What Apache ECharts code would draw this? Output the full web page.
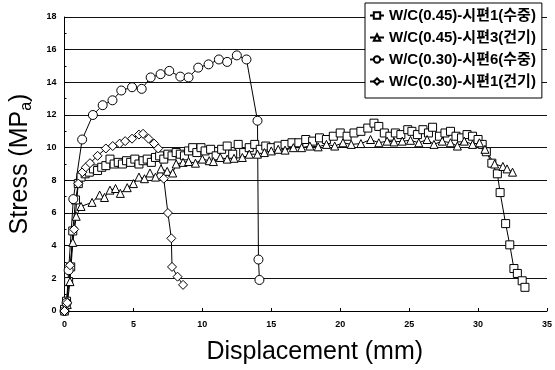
<!DOCTYPE html>
<html><head><meta charset="utf-8">
<script src="https://cdn.jsdelivr.net/npm/echarts@6/dist/echarts.min.js"></script>
<style>html,body{margin:0;padding:0;background:#fff}#c{width:555px;height:370px}</style>
</head><body><div id="c"></div>
<script>
const seriesNames = ['W/C(0.45)-시편1(수중)','W/C(0.45)-시편3(건기)','W/C(0.30)-시편6(수중)','W/C(0.30)-시편1(건기)'];
const xTicks = {min:0,max:35,interval:5};
const yTicks = {min:0,max:18,interval:2};
const sq = [[0,0.1],[0.15,0.6],[0.3,1.8],[0.45,2.7],[0.6,4.9],[0.8,6.8],[1.0,7.8],[1.2,8.2],[1.5,8.4],[1.8,8.5],[2.1,8.7],[2.4,8.6],[2.7,8.8],[3.0,8.9],[3.3,9.3],[3.6,9.0],[3.9,9.1],[4.2,9.0],[4.5,9.2],[4.8,9.1],[5.1,9.3],[5.4,9.0],[5.7,9.2],[6.0,9.3],[6.3,9.1],[6.6,9.4],[6.9,9.5],[7.2,9.3],[7.5,9.6],[7.8,9.5],[8.1,9.7],[8.4,9.6],[8.7,9.5],[9.0,9.8],[9.3,10.0],[9.6,9.7],[9.9,10.0],[10.2,9.8],[10.6,9.9],[11.0,9.5],[11.4,9.9],[11.8,10.1],[12.2,9.6],[12.6,10.2],[13.0,9.7],[13.4,10.0],[13.8,10.2],[14.2,9.9],[14.6,10.1],[15.0,10.0],[15.5,10.1],[16.0,10.2],[16.5,10.3],[17.0,10.3],[17.5,10.5],[18.0,10.4],[18.5,10.6],[19.0,10.5],[19.5,10.7],[20.0,10.9],[20.5,10.7],[21.0,10.9],[21.5,11.0],[22.0,11.2],[22.45,11.5],[22.8,11.3],[23.2,10.9],[23.6,10.7],[24.0,10.9],[24.4,10.8],[24.9,11.1],[25.2,11.0],[25.6,10.8],[26.0,11.1],[26.4,10.9],[26.7,11.25],[27.2,10.7],[27.6,10.9],[28.0,11.0],[28.4,10.7],[28.8,10.6],[29.2,10.8],[29.6,10.7],[30.0,10.5],[30.3,10.2],[30.6,9.75],[31.0,9.05],[31.4,8.4],[31.6,7.25],[32.0,5.35],[32.3,4.05],[32.6,2.6],[32.85,2.3],[33.2,1.85],[33.4,1.45]];
const tri = [[0,0],[0.2,0.4],[0.4,1.8],[0.6,4.2],[0.85,5.8],[1.2,6.4],[2.0,6.65],[2.55,7.1],[2.9,6.95],[3.3,7.4],[3.7,7.5],[4.05,7.2],[4.55,7.55],[5.0,7.8],[5.4,8.2],[5.8,8.1],[6.2,8.45],[6.6,8.2],[7.0,8.7],[7.45,8.55],[7.85,8.45],[8.1,9.0],[8.6,9.1],[9.0,9.15],[9.5,9.05],[10.0,9.3],[10.5,9.2],[10.8,9.15],[11.3,9.4],[11.8,9.3],[12.3,9.35],[12.9,9.4],[13.4,9.6],[14.0,9.6],[14.5,9.7],[15.0,9.8],[15.5,9.9],[16.0,9.85],[16.6,10.0],[17.2,10.0],[17.8,10.1],[18.4,10.05],[19.0,10.2],[19.6,10.1],[20.2,10.3],[20.8,10.2],[21.5,10.25],[22.2,10.5],[22.8,10.3],[23.4,10.4],[23.9,10.35],[24.5,10.4],[25.1,10.45],[25.7,10.3],[26.3,10.5],[26.8,10.2],[27.4,10.4],[28.0,10.3],[28.5,10.1],[29.0,10.4],[29.6,10.2],[30.1,10.3],[30.5,9.9],[31.2,9.0],[31.8,8.85],[32.1,8.7],[32.5,8.5]];
const circ = [[0,0],[0.15,0.5],[0.3,2.5],[0.64,6.85],[1.28,10.5],[2.06,12.0],[2.77,12.6],[3.48,12.9],[4.12,13.5],[4.9,13.7],[5.6,13.6],[6.25,14.3],[6.97,14.5],[7.6,14.7],[8.4,14.35],[9.0,14.3],[9.7,14.9],[10.45,15.1],[11.2,15.4],[11.8,15.25],[12.5,15.65],[13.2,15.4],[14.0,11.65],[14.07,3.15],[14.14,1.9]];
const dia = [[0,0],[0.2,0.5],[0.4,2.8],[0.7,5.0],[1.0,7.8],[1.3,8.5],[1.55,8.8],[1.85,9.05],[2.4,9.5],[3.0,9.95],[3.5,10.1],[4.0,10.25],[4.4,10.4],[4.9,10.55],[5.4,10.8],[5.7,10.85],[6.1,10.55],[6.5,10.25],[6.8,9.95],[7.2,8.1],[7.5,6.0],[7.75,4.45],[7.8,2.7],[8.2,2.1],[8.6,1.6]];

const chart = echarts.init(document.getElementById('c'), null, {renderer:'canvas'});
const mk = (name, data, sym, size) => ({
  name, type:'line', data, symbol:sym, symbolSize:size, showSymbol:true,
  lineStyle:{color:'#000',width:1}, itemStyle:{color:'#fff',borderColor:'#000',borderWidth:1},
  emphasis:{disabled:true},
  animation:false
});
chart.setOption({
  animation:false,
  grid:{left:61,right:2,top:17,bottom:51,containLabel:false},
  legend:{
    left:365, top:3, width:185, orient:'vertical', itemGap:7,
    backgroundColor:'#fff', borderColor:'#000', borderWidth:1, padding:[5,6,9,4],
    itemWidth:14, itemHeight:8,
    textStyle:{fontFamily:'Liberation Sans, Noto Sans CJK KR',fontSize:15,color:'#000',fontWeight:'bold'},
    data:seriesNames
  },
  xAxis:{
    type:'value', min:xTicks.min, max:xTicks.max, interval:xTicks.interval,
    name:'Displacement (mm)', nameLocation:'middle', nameGap:29,
    nameTextStyle:{fontFamily:'Liberation Sans',fontSize:25,color:'#000',padding:[0,0,0,18]},
    axisLine:{lineStyle:{color:'#000',width:1}},
    axisTick:{inside:true,length:3,lineStyle:{color:'#000'}},
    axisLabel:{fontFamily:'Liberation Sans',fontSize:9,fontWeight:'bold',color:'#000',margin:9},
    splitLine:{show:false}
  },
  yAxis:{
    type:'value', min:yTicks.min, max:yTicks.max, interval:yTicks.interval,
    name:'{a|Stress (MP}{b|a}{a|)}', nameLocation:'middle', nameGap:30,
    nameTextStyle:{rich:{a:{fontFamily:'Liberation Sans',fontSize:25,color:'#000'},b:{fontFamily:'Liberation Sans',fontSize:16,color:'#000',padding:[12,0,0,0]}}},
    axisLine:{show:true,lineStyle:{color:'#000',width:1}},
    axisTick:{show:true,inside:true,length:3,lineStyle:{color:'#000'}},
    minorTick:{show:true,splitNumber:2,length:2,lineStyle:{color:'#000'}},
    axisLabel:{fontFamily:'Liberation Sans',fontSize:9,fontWeight:'bold',color:'#000',margin:8},
    splitLine:{show:true,lineStyle:{color:'#111',width:1}}
  },
  series:[
    mk(seriesNames[0], sq, 'rect', 8),
    mk(seriesNames[1], tri, 'triangle', 8),
    mk(seriesNames[2], circ, 'circle', 9),
    mk(seriesNames[3], dia, 'diamond', 9)
  ]
});
</script></body></html>
